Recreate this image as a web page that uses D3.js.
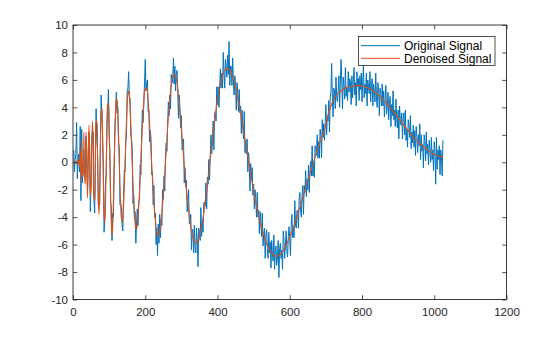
<!DOCTYPE html>
<html><head><meta charset="utf-8">
<script src="https://cdn.jsdelivr.net/npm/d3@7"></script>
<style>html,body{margin:0;padding:0;background:#fff;} svg{display:block;}</style>
</head><body>
<svg id="chart" width="560" height="337"></svg>
<script>
// Noisy signal, samples 2,4,...,1024
const originalSignal = [
.9,-.7,.2,.6,2.9,-1.2,.2,.6,-.7,2.6,
-2.8,2.4,-1.5,0.0,.9,-.9,-.9,1.9,-.2,-1.9,
.6,2.2,1.1,-3.6,-1.1,1.8,2.3,2.2,-2.7,-3.7,
.5,3.9,1.5,.7,-3.1,-3.0,-3.1,1.8,4.9,3.3,
1.7,-.4,-5.1,-4.0,-1.3,-1.0,2.7,3.7,5.3,1.9,
.8,-3.0,-3.2,-5.7,-3.7,-4.0,-.2,2.6,3.6,5.1,
3.6,4.0,1.4,1.1,
-3.1,-3.0,-3.3,-4.7,-5.0,-2.4,-.6,-.7,1.5,1.9,
5.2,5.4,6.6,4.8,4.6,1.9,1.8,.9,-3.0,-2.4,
-4.1,-3.6,-5.9,-4.3,-3.4,-4.6,
-2.9,-2.7,-.2,-.9,2.0,3.8,2.9,4.2,5.8,7.5,
5.2,5.8,6.0,3.7,3.8,1.5,2.3,1.7,-.9,-.7,
-3.1,-1.7,-4.0,-3.7,-6.0,-4.8,-6.8,-4.5,-5.9,-3.8,
-5.5,-4.1,-4.6,-2.0,-2.7,-1.0,-2.1,.4,
1.4,.8,2.8,4.4,3.4,4.9,3.9,6.4,5.9,5.8,
7.6,5.7,7.0,5.2,6.4,6.7,5.1,3.2,4.9,4.0,
2.5,3.4,.9,1.2,1.7,-1.5,-.4,-1.8,-1.3,-3.6,
-2.8,-2.0,-4.5,-4.4,-3.8,-6.4,-4.9,-4.9,-6.6,-4.6,
-6.2,-6.6,-4.8,-5.8,-7.6,-4.8,-5.1,-5.7,-3.3,-5.4,
-4.3,-5.1,-3.0,-2.9,-3.2,-1.5,-3.4,-1.1,-1.6,.2,
-1.3,.6,2.0,.6,1.5,3.0,.9,3.5,3.7,3.0,
5.5,4.2,5.5,4.0,5.5,6.8,5.4,6.5,5.4,8.0,
6.5,5.4,7.5,7.0,6.2,7.8,6.4,8.8,5.6,7.0,
7.0,5.6,7.6,5.9,4.9,6.3,5.6,3.8,5.8,5.1,
3.7,5.3,3.6,4.1,2.1,3.8,2.6,1.7,3.7,.7,
1.6,.6,1.7,-.7,.7,-.1,-2.1,-.1,-1.3,-.4,
-2.4,-1.6,-3.4,-2.0,-2.7,-4.0,-2.2,-4.0,
-3.5,-5.2,-3.6,-4.4,-5.4,-3.7,-6.1,-5.2,-4.8,-7.0,
-5.3,-4.9,-6.3,-7.0,-5.1,-6.6,-5.8,-7.7,-5.7,-6.7,
-7.2,-5.3,-7.8,-6.5,-6.1,-7.5,-6.9,-5.7,-8.4,-6.3,
-5.9,-7.0,-6.4,-7.8,-5.0,-5.7,-7.0,-6.1,-5.0,-6.4,
-6.9,-5.4,-4.7,-5.7,-6.8,-4.5,-3.8,-5.5,-4.7,-5.5,
-2.8,-4.6,-4.8,-3.5,-3.6,-4.8,-2.7,-2.2,-3.5,-4.0,
-2.5,-1.7,-3.8,-1.7,-2.2,-.6,-2.5,-1.2,-2.0,-.2,
-2.2,-.6,.1,-1.0,1.2,-1.0,0.0,-1.1,1.2,1.0,
.5,2.0,.3,1.5,.3,2.4,2.0,.3,3.1,1.8,
2.8,1.6,2.7,4.2,2.0,3.4,3.0,4.5,2.2,4.7,
5.1,7.2,4.7,3.3,5.4,5.2,3.9,6.2,4.7,4.4,
5.2,6.3,4.0,5.6,7.5,6.0,3.9,6.2,5.5,4.6,
6.9,4.8,5.4,4.5,6.6,5.1,6.1,5.8,4.2,6.3,
4.7,6.0,6.9,4.9,5.8,4.1,6.6,5.5,6.1,4.5,
6.3,5.3,6.5,4.4,5.9,7.1,4.7,5.7,5.0,6.5,
4.1,6.0,5.5,5.0,6.6,4.4,5.6,6.1,4.1,5.7,
5.2,4.4,6.5,4.8,4.0,5.8,5.3,3.4,5.4,5.0,
4.1,5.7,4.1,5.2,3.3,4.6,5.6,3.5,4.1,5.1,
3.1,4.5,4.8,2.6,4.2,3.4,5.2,3.1,3.8,2.6,
4.6,3.2,2.5,3.8,1.7,4.1,3.1,2.7,3.6,1.7,
3.2,3.6,2.0,3.8,1.6,2.4,1.1,3.1,2.7,1.8,
3.4,1.0,2.2,1.4,2.7,1.1,2.3,.5,2.6,1.9,
.7,2.0,1.2,2.8,.2,2.0,.8,1.3,-.4,2.0,
1.6,.1,2.2,.6,1.3,-.2,1.6,1.0,0.0,1.8,
.2,.9,-.6,1.5,.7,-1.6,1.8,-.5,.9,.2,
1.2,-.9,.9,.4,-1.0,1.6
];
// Denoised signal: samples 0..180 (every 2)
const denoisedA = [
0,0,0,0,.05,-.1,.1,.2,-.1,-.3,
.8,-1.4,1.6,-.8,-1.0,2.2,-1.1,-1.6,2.2,.8,
-2.6,-.7,2.7,1.0,-2.4,-2.0,1.4,3.0,.6,-2.6,
-2.8,0,2.9,3.0,.4,-2.7,-3.8,-2.0,1.2,3.7,
3.9,1.9,-1.3,-3.8,-4.4,-3.0,-.2,2.6,4.2,4.3,
2.9,.5,-2.2,-4.4,-5.3,-4.6,-2.7,-.3,2.0,3.8,
4.6,4.5,3.6,2.0,0,-1.72,-3.16,-4.10,-4.39,-4.02,
-3.11,-1.85,-.24,1.50,3.07,4.27,5.02,5.20,4.87,4.05,
2.80,1.34,-.15,-1.49,-2.70,-3.72,-4.42,-4.83,-4.85,-4.62,
-4.00
];
// Denoised signal: samples 184..512 (every 4)
const denoisedB = [
-2.18,.16,2.60,4.42,5.39,5.37,4.46,2.81,.83,-1.23,
-2.91,-4.25,-5.13,-5.39,-5.09,-4.25,-3.10,-1.65,0,1.71,
3.34,4.69,5.61,6.20,6.42,6.25,5.83,4.77,3.62,2.35,
1.06,-.25,-1.50,-2.57,-3.48,-4.30,-5.02,-5.50,-5.75,-5.90,
-5.79,-5.57,-5.17,-4.63,-4.03,-3.34,-2.53,-1.67,-.72,.26,
1.20,2.15,3.03,3.85,4.54,5.16,5.71,6.13,6.48,6.70,
6.82,6.84,6.79,6.66,6.39,6.05,5.65,5.24,4.69,4.14,
3.56,2.94,2.31,1.63,1.02,.41,-.27,-.88,-1.50,-2.04,
-2.65,-3.20,-3.67
];
// Denoised signal: samples 520..1024 (every 8)
const denoisedC = [
-4.60,-5.34,-5.93,-6.37,-6.66,-6.84,-6.81,-6.64,-6.31,-5.92,
-5.45,-4.90,-4.28,-3.62,-2.96,-2.27,-1.55,-.82,-.12,.53,
1.20,1.78,2.38,3.20,3.95,4.50,4.85,5.08,5.25,5.38,
5.46,5.52,5.56,5.58,5.58,5.55,5.50,5.42,5.32,5.20,
5.03,4.84,4.63,4.40,4.16,3.91,3.65,3.38,3.10,2.83,
2.56,2.29,2.02,1.77,1.55,1.35,1.17,1.00,.85,.70,
.58,.48,.41,.38
];
const xTicks = [0,200,400,600,800,1000,1200];
const yTicks = [-10,-8,-6,-4,-2,0,2,4,6,8,10];
const seriesNames = ["Original Signal","Denoised Signal"];
const colors = ["#0072BD","#D95319"];

const original = originalSignal.map((v,i)=>({x:(i+1)*2,y:v}));
const denoised = [
  ...denoisedA.map((v,i)=>({x:i*2,y:v})),
  ...denoisedB.map((v,i)=>({x:184+i*4,y:v})),
  ...denoisedC.map((v,i)=>({x:520+i*8,y:v}))
];

const L=73, R=506.5, T=25, B=299.5;
const axisColor="#262626";
const font='"Liberation Sans", Arial, Helvetica, sans-serif';
const svg=d3.select("#chart");
const x=d3.scaleLinear().domain([0,1200]).range([L,R]);
const y=d3.scaleLinear().domain([-10,10]).range([B,T]);

const plot=svg.append("g");
const line=d3.line().x(d=>x(d.x)).y(d=>y(d.y));
plot.append("path").datum(original).attr("d",line)
  .attr("fill","none").attr("stroke",colors[0]).attr("stroke-width",1).attr("stroke-linejoin","round");
plot.append("path").datum(denoised).attr("d",line.curve(d3.curveCatmullRom.alpha(0.5)))
  .attr("fill","none").attr("stroke",colors[1]).attr("stroke-width",1.1).attr("stroke-linejoin","round");

const tl=4.3;
const fmt=d=>String(d);
const gx=svg.append("g").attr("transform",`translate(0,${B})`)
  .call(d3.axisBottom(x).tickValues(xTicks).tickSize(-tl).tickPadding(8).tickFormat(fmt));
const gxt=svg.append("g").attr("transform",`translate(0,${T})`)
  .call(d3.axisTop(x).tickValues(xTicks).tickSize(-tl).tickFormat(""));
const gy=svg.append("g").attr("transform",`translate(${L},0)`)
  .call(d3.axisLeft(y).tickValues(yTicks).tickSize(-tl).tickPadding(5).tickFormat(fmt));
const gyr=svg.append("g").attr("transform",`translate(${R},0)`)
  .call(d3.axisRight(y).tickValues(yTicks).tickSize(-tl).tickFormat(""));
[gx,gxt,gy,gyr].forEach(g=>{
  g.select(".domain").remove();
  g.selectAll("line").attr("stroke",axisColor).attr("stroke-width",0.8);
  g.selectAll("text").attr("fill",axisColor).style("font-family",font).style("font-size","11.5px");
});
gx.selectAll("text").attr("dy","0.71em");
svg.append("rect").attr("x",L).attr("y",T).attr("width",R-L).attr("height",B-T)
  .attr("fill","none").attr("stroke",axisColor).attr("stroke-width",0.9);

// legend
const lg=svg.append("g");
lg.append("rect").attr("x",358.5).attr("y",36.5).attr("width",136.5).attr("height",29)
  .attr("fill","#fff").attr("stroke",axisColor).attr("stroke-width",0.8);
seriesNames.forEach((n,i)=>{
  const yy=45.7+i*12.6;
  lg.append("line").attr("x1",361).attr("x2",400).attr("y1",yy).attr("y2",yy)
    .attr("stroke",colors[i]).attr("stroke-width",1);
  lg.append("text").attr("x",404).attr("y",yy).attr("dy","0.36em").text(n)
    .attr("fill","#000").style("font-family",font).style("font-size","12px");
});
</script>
</body></html>
